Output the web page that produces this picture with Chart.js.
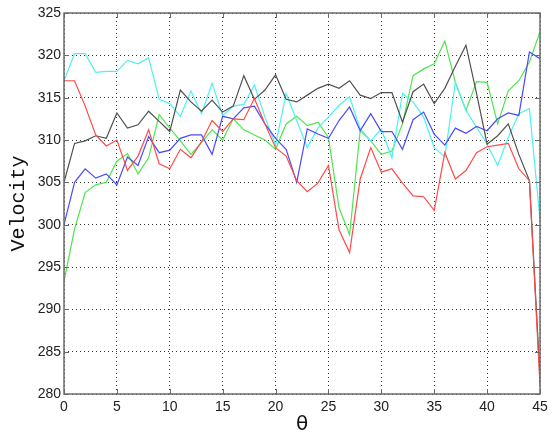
<!DOCTYPE html>
<html>
<head>
<meta charset="utf-8">
<script src="https://cdn.jsdelivr.net/npm/chart.js@4/dist/chart.umd.min.js"></script>
<style>
  html, body { margin: 0; padding: 0; background: #fff; }
  #wrap { width: 554px; height: 442px; }
</style>
</head>
<body>
<div id="wrap"><canvas id="velocityChart"></canvas></div>
<script>
// --- Data ---
const theta = [0, 1, 2, 3, 4, 5, 6, 7, 8, 9, 10, 11, 12, 13, 14, 15, 16, 17, 18, 19, 20, 21, 22,
    23, 24, 25, 26, 27, 28, 29, 30, 31, 32, 33, 34, 35, 36, 37, 38, 39, 40, 41, 42, 43, 44, 45];

const redSeries = [317.0, 317.0, 314.0, 310.6, 309.3, 310.0, 306.4, 308.1, 311.2, 307.2, 306.6, 308.9,
    307.9, 309.8, 312.3, 311.0, 312.5, 312.4, 314.9, 311.9, 309.1, 308.1, 305.2, 303.9, 304.9, 307.0,
    299.4, 296.7, 305.4, 309.1, 306.2, 306.6, 304.9, 303.4, 303.3, 301.7, 308.5, 305.4, 306.4, 308.5,
    309.2, 309.4, 309.6, 306.6, 305.2, 281.0];

const greenSeries = [293.3, 299.5, 303.8, 304.7, 305.0, 307.5, 308.4, 306.0, 307.9, 313.0, 311.4, 309.9,
    308.3, 309.7, 311.2, 310.0, 312.5, 311.2, 310.6, 310.0, 308.9, 311.9, 312.8, 311.7, 312.1, 310.3,
    302.0, 298.8, 311.1, 309.9, 308.3, 308.7, 311.9, 317.6, 318.4, 319.0, 321.7, 316.8, 313.5, 316.9,
    316.8, 311.9, 315.8, 317.0, 319.2, 322.8];

const blueSeries = [300.0, 305.0, 306.6, 305.5, 306.0, 304.7, 308.0, 307.0, 310.4, 308.5, 308.8, 310.2,
    310.6, 310.6, 308.3, 312.8, 312.5, 313.8, 314.0, 311.9, 310.2, 308.9, 305.0, 311.3, 310.7, 310.2,
    312.3, 313.9, 311.1, 313.1, 311.0, 311.0, 308.9, 312.4, 313.3, 310.7, 309.4, 311.4, 310.8, 311.6,
    311.1, 312.5, 313.2, 312.9, 320.4, 319.6];

const cyanSeries = [317.0, 320.2, 320.2, 318.0, 318.1, 318.1, 319.4, 319.0, 319.7, 314.8, 314.3, 312.8,
    315.8, 313.1, 316.7, 312.9, 314.0, 314.2, 316.5, 312.7, 309.4, 315.5, 312.3, 309.1, 311.4, 312.7,
    314.1, 315.1, 311.3, 309.9, 311.3, 307.9, 315.5, 314.5, 312.7, 309.1, 308.0, 316.8, 313.5, 311.5,
    309.5, 307.0, 310.3, 313.1, 313.7, 300.6];

const blackSeries = [305.0, 309.6, 309.9, 310.5, 310.2, 313.2, 311.4, 311.8, 313.4, 312.2, 311.0, 315.9,
    314.5, 313.4, 314.7, 313.3, 314.0, 317.6, 314.8, 315.9, 317.7, 314.8, 314.5, 315.3, 316.1, 316.6,
    316.1, 317.0, 315.3, 314.9, 315.6, 315.6, 312.1, 315.7, 316.6, 314.3, 316.1, 318.7, 321.2, 315.5,
    309.5, 310.5, 311.9, 308.3, 305.2, 282.0];

const xTicks = [0, 5, 10, 15, 20, 25, 30, 35, 40, 45];
const yTicks = [280, 285, 290, 295, 300, 305, 310, 315, 320, 325];

// --- Helpers ---
const toPoints = (values) => theta.map((t, i) => ({ x: t, y: values[i] }));

const line = (values, color) => ({
    data: toPoints(values),
    borderColor: color,
    borderWidth: 1.2,
    pointRadius: 0,
    tension: 0,
    fill: false
});

// Box around the axes plus the small inward tick marks (MATLAB look)
const axesFrame = {
    id: 'axesFrame',
    afterDatasetsDraw(chart) {
        const { ctx, chartArea: a, scales: { x, y } } = chart;
        ctx.save();
        ctx.strokeStyle = '#6b6b6b';
        ctx.lineWidth = 1;
        ctx.setLineDash([]);
        ctx.beginPath();
        xTicks.forEach(v => {
            const px = Math.round(x.getPixelForValue(v)) + 0.5;
            ctx.moveTo(px, a.bottom); ctx.lineTo(px, a.bottom - 5);
            ctx.moveTo(px, a.top); ctx.lineTo(px, a.top + 5);
        });
        yTicks.forEach(v => {
            const py = Math.round(y.getPixelForValue(v)) + 0.5;
            ctx.moveTo(a.left, py); ctx.lineTo(a.left + 5, py);
            ctx.moveTo(a.right, py); ctx.lineTo(a.right - 5, py);
        });
        ctx.stroke();
        ctx.lineWidth = 1.5;
        ctx.strokeRect(Math.round(a.left), Math.round(a.top), Math.round(a.right - a.left), Math.round(a.bottom - a.top));
        ctx.restore();
    }
};

new Chart(document.getElementById('velocityChart'), {
    type: 'line',
    data: {
        datasets: [
            line(redSeries, '#ff4a4a'),
            line(blackSeries, '#505050'),
            line(blueSeries, '#4a4aff'),
            line(cyanSeries, '#4cf2f2'),
            line(greenSeries, '#4ee64e')
        ]
    },
    options: {
        responsive: true,
        maintainAspectRatio: false,
        animation: false,
        layout: { padding: { top: 13, right: 14, left: 0, bottom: 0 } },
        plugins: { legend: { display: false }, tooltip: { enabled: false } },
        scales: {
            x: {
                type: 'linear',
                min: 0,
                max: 45,
                afterBuildTicks: (s) => { s.ticks = xTicks.map(v => ({ value: v })); },
                afterFit: (s) => { s.height = 48; },
                grid: { color: '#333', lineWidth: 1, drawTicks: false },
                border: { display: false, dash: [1, 3] },
                ticks: { padding: 5, color: '#222', font: { family: 'Liberation Sans', size: 14 }, maxRotation: 0 },
                title: {
                    display: true,
                    text: 'θ',
                    color: '#111',
                    font: { family: 'DejaVu Sans', size: 20 },
                    padding: { top: 0, bottom: 5 }
                }
            },
            y: {
                min: 280,
                max: 325,
                afterBuildTicks: (s) => { s.ticks = yTicks.map(v => ({ value: v })); },
                afterFit: (s) => { s.width = 64; },
                grid: { color: '#333', lineWidth: 1, drawTicks: false },
                border: { display: false, dash: [1, 3] },
                ticks: { padding: 3, color: '#222', font: { family: 'Liberation Sans', size: 14 } },
                title: {
                    display: true,
                    text: 'Velocity',
                    color: '#111',
                    font: { family: 'Liberation Mono', size: 20 },
                    padding: { top: 7, bottom: 0 }
                }
            }
        }
    },
    plugins: [axesFrame]
});
</script>
</body>
</html>
